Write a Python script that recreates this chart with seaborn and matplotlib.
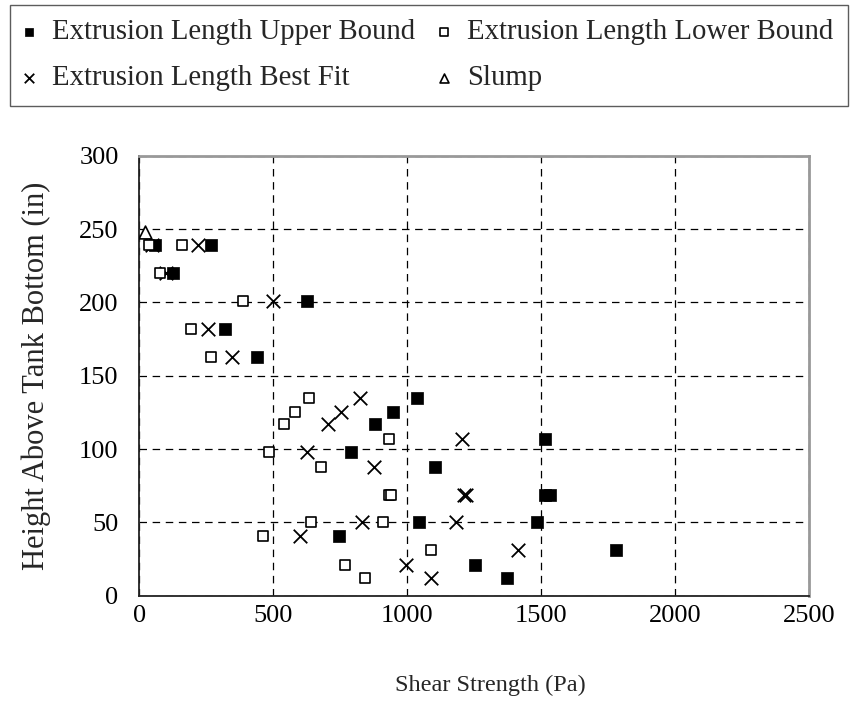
import matplotlib
matplotlib.use("Agg")
import matplotlib.pyplot as plt
import seaborn as sns
import pandas as pd

# Shear strength (Pa) vs. height above tank bottom (in)
height = [239, 239, 220, 201, 182, 163, 135, 125, 117, 107, 98, 88,
          69, 69, 50, 50, 41, 31, 21, 12]
upper_bound = [58, 267, 124, 625, 319, 438, 1037, 947, 880, 1514, 789, 1103,
               1514, 1534, 1044, 1484, 745, 1778, 1253, 1372]
lower_bound = [35, 160, 76, 386, 191, 266, 634, 579, 541, 932, 483, 676,
               931, 940, 639, 908, 461, 1087, 768, 842]
best_fit = [47, 218, 100, 500, 255, 345, 822, 754, 705, 1205, 627, 875,
            1210, 1218, 831, 1183, 599, 1413, 994, 1087]
slump_shear = [20]
slump_height = [248]

x_ticks = [0, 500, 1000, 1500, 2000, 2500]
y_ticks = [0, 50, 100, 150, 200, 250, 300]

sns.set_theme(style="white")
plt.rcParams["font.family"] = ["Liberation Serif", "DejaVu Serif"]

fig = plt.figure(figsize=(8.54, 7.21), dpi=100)
ax = fig.add_axes([0.1633, 0.1738, 0.9473 - 0.1633, 0.784 - 0.1738])

df_u = pd.DataFrame({"shear": upper_bound, "height": height})
df_l = pd.DataFrame({"shear": lower_bound, "height": height})
df_b = pd.DataFrame({"shear": best_fit, "height": height})
df_s = pd.DataFrame({"shear": slump_shear, "height": slump_height})

sns.scatterplot(data=df_u, x="shear", y="height", ax=ax, marker="s", s=66,
                color="black", edgecolor="black", linewidth=0.5,
                label="Extrusion Length Upper Bound", zorder=3)
sns.scatterplot(data=df_b, x="shear", y="height", ax=ax, marker="x", s=95,
                color="black", linewidth=1.3,
                label="Extrusion Length Best Fit", zorder=3)
sns.scatterplot(data=df_l, x="shear", y="height", ax=ax, marker="s", s=58,
                facecolor="white", edgecolor="black", linewidth=1.2,
                label="Extrusion Length Lower Bound", zorder=3)
sns.scatterplot(data=df_s, x="shear", y="height", ax=ax, marker="^", s=85,
                facecolor="white", edgecolor="black", linewidth=1.2,
                label="Slump", zorder=3)

ax.set_xlim(0, 2500)
ax.set_ylim(0, 300)
ax.set_xticks(x_ticks)
ax.set_yticks(y_ticks)
ax.set_xticklabels([str(v) for v in x_ticks])
ax.set_yticklabels([str(v) for v in y_ticks])

ax.grid(True, color="black", linestyle=(0, (6, 4.5)), linewidth=0.9)
ax.set_axisbelow(True)

for side in ("left", "bottom"):
    ax.spines[side].set_color("#222222")
    ax.spines[side].set_linewidth(1.3)
for side in ("top", "right"):
    ax.spines[side].set_color("#999999")
    ax.spines[side].set_linewidth(2.0)

ax.tick_params(axis="both", direction="inout", length=14, width=1.0,
               color="#222222", labelsize=19, labelcolor="black")
ax.tick_params(axis="x", pad=0)
ax.tick_params(axis="y", pad=8)

ax.set_xlabel("Shear Strength (Pa)", fontsize=17.5)
ax.xaxis.set_label_coords(0.5235, -0.179)
ax.set_ylabel("Height Above Tank Bottom (in)", fontsize=22, labelpad=20)

handles, labels = ax.get_legend_handles_labels()
ax.get_legend().remove()
leg = fig.legend(handles, labels,
                 ncol=2, loc="upper left", bbox_to_anchor=(0.0117, 0.9931),
                 frameon=True, fancybox=False, edgecolor="#333333",
                 fontsize=20.7, markerscale=0.7, handletextpad=0.66,
                 handlelength=0.3, columnspacing=0.85, borderpad=0.5,
                 labelspacing=0.69, borderaxespad=0.0)
leg.get_frame().set_linewidth(1.0)

fig.savefig("out.png", dpi=100, facecolor="white")
